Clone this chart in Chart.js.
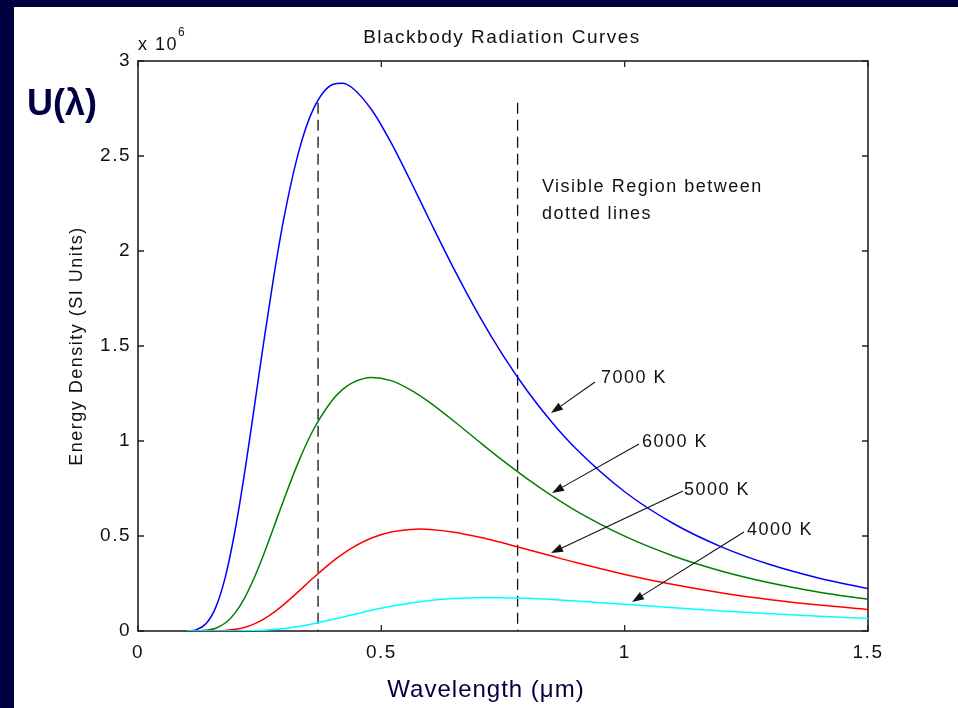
<!DOCTYPE html>
<html><head><meta charset="utf-8">
<script src="https://cdn.jsdelivr.net/npm/chart.js@4.4.1/dist/chart.umd.min.js"></script>
<style>
html,body{margin:0;padding:0;background:#000040;width:958px;height:708px;overflow:hidden}
#white{position:absolute;left:14px;top:7px;right:0;bottom:0;background:#fff}
#c{position:absolute;left:0;top:0}
</style></head><body>
<div id="white"></div>
<canvas id="c" width="958" height="708"></canvas>
<script>
// Wavelength in micrometres
const wavelengths = [0.10,0.12,0.14,0.16,0.18,0.20,0.22,0.24,0.26,0.28,0.30,0.33,0.36,0.40,0.42,0.44,0.48,0.52,0.56,0.58,0.60,0.65,0.70,0.75,0.80,0.85,0.90,1.00,1.10,1.20,1.30,1.40,1.50];
// Energy density, in units of 10^6
const u7000 = [0.0006,0.0073,0.0390,0.1255,0.2902,0.5368,0.8484,1.1964,1.5496,1.8821,2.1756,2.5206,2.7451,2.8762,2.8832,2.8594,2.7436,2.5702,2.3683,2.2636,2.1581,1.9016,1.6642,1.4511,1.2634,1.1001,0.9591,0.7330,0.5657,0.4414,0.3483,0.2778,0.2238];
const u6000 = [0.0000,0.0004,0.0034,0.0147,0.0433,0.0968,0.1788,0.2870,0.4148,0.5535,0.6940,0.8915,1.0578,1.2174,1.2701,1.3060,1.3346,1.3177,1.2694,1.2374,1.2017,1.1027,0.9985,0.8964,0.8003,0.7122,0.6327,0.4991,0.3950,0.3146,0.2524,0.2042,0.1666];
const u5000 = [0.0000,0.0000,0.0001,0.0007,0.0030,0.0088,0.0202,0.0389,0.0656,0.0998,0.1403,0.2083,0.2789,0.3664,0.4045,0.4378,0.4892,0.5208,0.5348,0.5363,0.5348,0.5203,0.4950,0.4636,0.4292,0.3943,0.3602,0.2976,0.2444,0.2006,0.1650,0.1363,0.1131];
const u4000 = [0.0000,0.0000,0.0000,0.0000,0.0001,0.0002,0.0008,0.0019,0.0041,0.0076,0.0127,0.0235,0.0378,0.0606,0.0729,0.0853,0.1091,0.1302,0.1474,0.1544,0.1603,0.1707,0.1752,0.1753,0.1718,0.1658,0.1583,0.1407,0.1225,0.1054,0.0902,0.0770,0.0657];
const seriesLabels = ['7000 K','6000 K','5000 K','4000 K'];
const xTicks = [0, 0.5, 1, 1.5];
const yTicks = [0, 0.5, 1, 1.5, 2, 2.5, 3];
const visibleBounds = [0.37, 0.78];
const visibleTop = 2.78;

const FONT = "'Liberation Sans', Arial, Helvetica, sans-serif";
const TEXT = '#111111';
const NAVY = '#000040';

// label annotations in data coordinates
const arrowNotes = [
  {label: seriesLabels[0], text: [0.9514, 1.3316], tail: [0.939, 1.3105], tip: [0.8486, 1.1474]},
  {label: seriesLabels[1], text: [1.0356, 0.9921], tail: [1.0295, 0.9842], tip: [0.8507, 0.7263]},
  {label: seriesLabels[2], text: [1.1219, 0.7395], tail: [1.1199, 0.7368], tip: [0.8486, 0.4105]},
  {label: seriesLabels[3], text: [1.2514, 0.5289], tail: [1.2452, 0.5211], tip: [1.0151, 0.1526]}
];
const visibleNote = {lines: ['Visible Region between', 'dotted lines'], at: [0.830, 2.311]};

const toPts = ys => wavelengths.map((x, i) => ({x, y: ys[i]}));
const curve = (label, ys, color, order) => ({
  label, data: toPts(ys), borderColor: color, borderWidth: 1.5, pointRadius: 0,
  fill: false, cubicInterpolationMode: 'monotone', order
});
const dashed = x => ({
  label: 'visible ' + x, data: [{x, y: visibleTop}, {x, y: 0}],
  borderColor: '#111', borderWidth: 1.3, borderDash: [11, 6], pointRadius: 0, fill: false, order: 5
});
const plainNum = v => String(+v);

const decor = {
  id: 'decor',
  beforeDraw(chart) { chart.ctx.letterSpacing = '1.5px'; },
  beforeDatasetsDraw(chart) {
    const {ctx, chartArea: a, scales: {x, y}} = chart;
    ctx.save();
    ctx.strokeStyle = '#222';
    ctx.lineWidth = 1.6;
    ctx.strokeRect(a.left, a.top, a.right - a.left, a.bottom - a.top);
    ctx.beginPath();
    ctx.lineWidth = 1.3;
    xTicks.forEach(v => {
      const p = x.getPixelForValue(v);
      ctx.moveTo(p, a.bottom); ctx.lineTo(p, a.bottom - 6);
      ctx.moveTo(p, a.top); ctx.lineTo(p, a.top + 6);
    });
    yTicks.forEach(v => {
      const p = y.getPixelForValue(v);
      ctx.moveTo(a.left, p); ctx.lineTo(a.left + 6, p);
      ctx.moveTo(a.right, p); ctx.lineTo(a.right - 6, p);
    });
    ctx.stroke();
    ctx.restore();
  },
  afterDatasetsDraw(chart) {
    const {ctx, chartArea: a, scales: {x, y}} = chart;
    const P = d => [x.getPixelForValue(d[0]), y.getPixelForValue(d[1])];
    ctx.save();
    ctx.letterSpacing = '1.5px';
    ctx.fillStyle = TEXT;
    ctx.strokeStyle = '#111';
    ctx.lineWidth = 1.1;
    ctx.font = `18px ${FONT}`;
    // arrows with labels
    arrowNotes.forEach(n => {
      const [tx, ty] = P(n.tail), [hx, hy] = P(n.tip);
      const dx = hx - tx, dy = hy - ty, len = Math.hypot(dx, dy);
      const ux = dx / len, uy = dy / len, L = 12, W = 4.2;
      const bx = hx - ux * L, by = hy - uy * L;
      ctx.beginPath(); ctx.moveTo(tx, ty); ctx.lineTo(bx, by); ctx.stroke();
      ctx.beginPath();
      ctx.moveTo(hx, hy);
      ctx.lineTo(bx - uy * W, by + ux * W);
      ctx.lineTo(bx + uy * W, by - ux * W);
      ctx.closePath(); ctx.fillStyle = '#111'; ctx.fill();
      ctx.fillStyle = TEXT;
      const [lx, ly] = P(n.text);
      ctx.textAlign = 'left'; ctx.textBaseline = 'middle';
      ctx.fillText(n.label, lx, ly);
    });
    // visible region note
    const [vx, vy] = P(visibleNote.at);
    ctx.textBaseline = 'alphabetic'; ctx.textAlign = 'left';
    visibleNote.lines.forEach((t, i) => ctx.fillText(t, vx, vy + i * 27));
    // title
    ctx.font = `19px ${FONT}`;
    ctx.textAlign = 'center';
    ctx.fillText('Blackbody Radiation Curves', (a.left + a.right) / 2 - 1, a.top - 18);
    // exponent
    ctx.textAlign = 'left';
    ctx.font = `18px ${FONT}`;
    ctx.fillText('x 10', a.left, a.top - 11);
    ctx.font = `12px ${FONT}`;
    ctx.fillText('6', a.left + 40, a.top - 25);
    // U(lambda)
    ctx.letterSpacing = '0px';
    ctx.fillStyle = NAVY;
    ctx.font = `bold 36px ${FONT}`;
    ctx.fillText('U(\u03BB)', 27, 115);
    // x axis title
    ctx.letterSpacing = '1px';
    ctx.font = `24px ${FONT}`;
    ctx.textAlign = 'center';
    ctx.fillText('Wavelength (\u03BCm)', 486, 697);
    ctx.restore();
  }
};

Chart.defaults.font.family = FONT;
new Chart(document.getElementById('c'), {
  type: 'line',
  data: {
    datasets: [
      curve(seriesLabels[0], u7000, '#0000ff', 3),
      curve(seriesLabels[1], u6000, '#008000', 2),
      curve(seriesLabels[2], u5000, '#ff0000', 1),
      curve(seriesLabels[3], u4000, '#00ffff', 0),
      dashed(visibleBounds[0]),
      dashed(visibleBounds[1])
    ]
  },
  options: {
    responsive: false,
    devicePixelRatio: 1,
    animation: false,
    events: [],
    layout: {padding: {top: 61, right: 90, left: 0, bottom: 0}},
    plugins: {legend: {display: false}, tooltip: {enabled: false}, title: {display: false}},
    scales: {
      x: {
        type: 'linear', min: 0, max: 1.5,
        afterBuildTicks: s => { s.ticks = xTicks.map(v => ({value: v})); },
        afterFit: s => { s.height = 77; },
        grid: {display: false, drawTicks: false},
        border: {display: false},
        ticks: {color: TEXT, font: {size: 19}, padding: 10, maxRotation: 0, autoSkip: false, callback: plainNum}
      },
      y: {
        type: 'linear', min: 0, max: 3,
        afterBuildTicks: s => { s.ticks = yTicks.map(v => ({value: v})); },
        afterFit: s => { s.width = 138; },
        grid: {display: false, drawTicks: false},
        border: {display: false},
        ticks: {color: TEXT, font: {size: 19}, padding: 7, autoSkip: false, callback: plainNum},
        title: {display: true, text: 'Energy Density (SI Units)', color: TEXT,
                font: {size: 18}, padding: {top: 66, bottom: 0}}
      }
    }
  },
  plugins: [decor]
});
</script>
</body></html>
